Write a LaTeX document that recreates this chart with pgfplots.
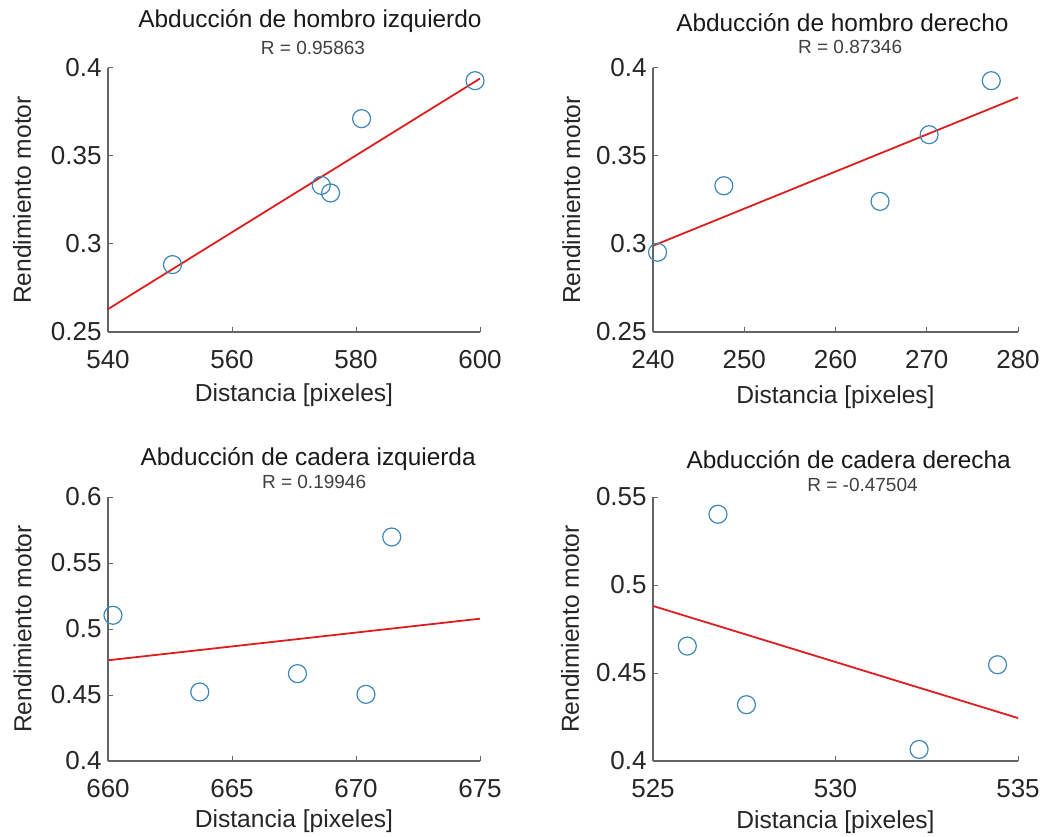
\documentclass[border=0pt]{standalone}
\usepackage{fontspec}
\setmainfont{Liberation Sans}
\usepackage{pgfplots}
\pgfplotsset{compat=1.18}
\definecolor{mblue}{RGB}{60,135,185}
\definecolor{mred}{RGB}{220,30,30}
\definecolor{axgray}{RGB}{100,100,100}
\tikzset{
  ttl/.style={anchor=base, font=\fontsize{12.2}{12.2}\selectfont, text=black!90},
  rr/.style={anchor=base, font=\fontsize{9.5}{9.5}\selectfont, text=black!75},
  lbl/.style={font=\fontsize{12.3}{12.3}\selectfont, text=black!85},
}
\pgfplotsset{
  panel/.style={
    scale only axis,
    anchor=south west,
    height=132pt,
    axis lines*=left,
    axis line style={-, draw=axgray, line width=0.6pt},
    tick align=inside,
    major tick length=2.5pt,
    tick style={draw=axgray, line width=0.5pt},
    /pgf/number format/assume math mode=true,
    ticklabel style={font=\fontsize{13}{13}\selectfont, text=black!85},
    xticklabel style={anchor=base, inner sep=0pt, yshift=-18pt},
    yticklabel style={anchor=east, inner sep=0pt, xshift=-3pt},
    clip=false,
    xlabel={Distancia [pixeles]},
    ylabel={Rendimiento motor},
    scaled ticks=false,
  },
  scat/.style={only marks, mark=o, mark size=4.5pt, mblue, mark options={line width=0.6pt}},
  fit/.style={mred, line width=0.9pt, no marks},
}
\begin{document}
\begin{tikzpicture}
\path[use as bounding box] (0,0) rectangle (526.5pt,418pt);
% Panel 1
\begin{axis}[panel, at={(54pt,252pt)}, width=186pt,
  xmin=540, xmax=600, ymin=0.25, ymax=0.4,
  xtick={540,560,580,600}, ytick={0.25,0.3,0.35,0.4},
  yticklabels={0.25,0.3,0.35,0.4},
  every axis x label/.style={at={(axis description cs:0.5,-0.265)}, anchor=base, lbl},
  every axis y label/.style={at={(axis description cs:-0.207,0.5)}, rotate=90, anchor=base, lbl}]
\addplot[scat] coordinates {(550.4,0.2883) (574.4,0.3333) (575.9,0.329) (580.9,0.3712) (599.2,0.3928)};
\addplot[fit] coordinates {(540,0.263) (600,0.394)};
\node[ttl] at (rel axis cs:0.543,1) [yshift=20pt] {Abducción de hombro izquierdo};
\node[rr] at (rel axis cs:0.551,1) [yshift=6.5pt] {R = 0.95863};
\end{axis}
% Panel 2
\begin{axis}[panel, at={(326.5pt,252pt)}, width=182.5pt,
  xmin=240, xmax=280, ymin=0.25, ymax=0.4,
  xtick={240,250,260,270,280}, ytick={0.25,0.3,0.35,0.4},
  yticklabels={0.25,0.3,0.35,0.4},
  every axis x label/.style={at={(axis description cs:0.5,-0.269)}, anchor=base, lbl},
  every axis y label/.style={at={(axis description cs:-0.2,0.5)}, rotate=90, anchor=base, lbl}]
\addplot[scat] coordinates {(240.5,0.2953) (247.76,0.3331) (264.88,0.3242) (270.26,0.3621) (277.07,0.3928)};
\addplot[fit] coordinates {(240,0.299) (280,0.3833)};
\node[ttl] at (rel axis cs:0.519,1) [yshift=18pt] {Abducción de hombro derecho};
\node[rr] at (rel axis cs:0.54,1) [yshift=7pt] {R = 0.87346};
\end{axis}
% Panel 3
\begin{axis}[panel, at={(54pt,37.5pt)}, width=186pt,
  xmin=660, xmax=675, ymin=0.4, ymax=0.6,
  xtick={660,665,670,675}, ytick={0.4,0.45,0.5,0.55,0.6},
  yticklabels={0.4,0.45,0.5,0.55,0.6},
  every axis x label/.style={at={(axis description cs:0.5,-0.25)}, anchor=base, lbl},
  every axis y label/.style={at={(axis description cs:-0.206,0.5)}, rotate=90, anchor=base, lbl}]
\addplot[scat] coordinates {(660.2,0.5104) (663.7,0.4523) (667.64,0.4662) (670.4,0.4505) (671.44,0.5697)};
\addplot[fit] coordinates {(660,0.4763) (675,0.5078)};
\node[ttl] at (rel axis cs:0.538,1) [yshift=16pt] {Abducción de cadera izquierda};
\node[rr] at (rel axis cs:0.554,1) [yshift=4.5pt] {R = 0.19946};
\end{axis}
% Panel 4
\begin{axis}[panel, at={(326.5pt,37.5pt)}, width=182.5pt,
  xmin=525, xmax=535, ymin=0.4, ymax=0.55,
  xtick={525,530,535}, ytick={0.4,0.45,0.5,0.55},
  yticklabels={0.4,0.45,0.5,0.55},
  every axis x label/.style={at={(axis description cs:0.5,-0.254)}, anchor=base, lbl},
  every axis y label/.style={at={(axis description cs:-0.203,0.5)}, rotate=90, anchor=base, lbl}]
\addplot[scat] coordinates {(526.78,0.5402) (525.94,0.4653) (527.56,0.432) (532.29,0.4066) (534.44,0.4547)};
\addplot[fit] coordinates {(525,0.4881) (535,0.4244)};
\node[ttl] at (rel axis cs:0.536,1) [yshift=14.5pt] {Abducción de cadera derecha};
\node[rr] at (rel axis cs:0.574,1) [yshift=3pt] {R = -0.47504};
\end{axis}
\end{tikzpicture}
\end{document}
